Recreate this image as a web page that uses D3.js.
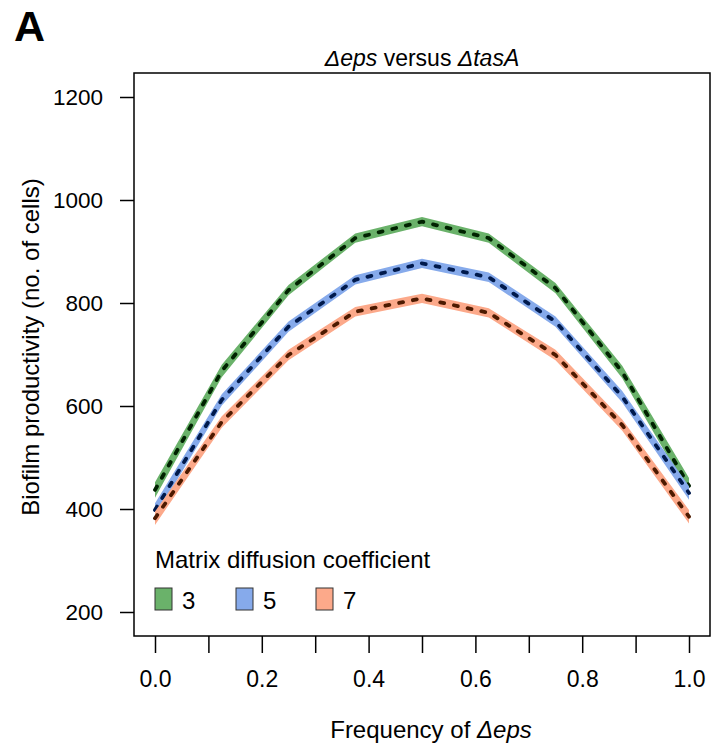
<!DOCTYPE html>
<html>
<head>
<meta charset="utf-8" />
<script src="https://d3js.org/d3.v7.min.js"></script>
<style>
  body { margin: 0; background: #fff; font-family: "Liberation Sans", Arial, sans-serif; }
  svg text { fill: #000; font-family: "Liberation Sans", Arial, sans-serif; }
</style>
</head>
<body>
<svg width="712" height="749"></svg>
<script>
// frequency of Δeps
const freq = [0, 0.125, 0.25, 0.375, 0.5, 0.625, 0.75, 0.875, 1.0];
// mean biofilm productivity per matrix diffusion coefficient
const coef3 = [437, 668, 825, 926, 958, 926, 829, 666, 445];
const coef5 = [398, 612, 754, 845, 877, 850, 764, 618, 431];
const coef7 = [382, 569, 699, 783, 809, 781, 699, 563, 385];
// half-width of the shaded band
const spread3 = [15, 12, 10, 9, 9, 9, 10, 12, 15];
const spread5 = [13, 11, 10, 9, 9, 9, 10, 11, 13];
const spread7 = [13, 11, 10, 9, 9, 9, 10, 11, 13];

const legendLabels = ["3", "5", "7"];
const yTicks = [200, 400, 600, 800, 1000, 1200];
const xTicks = [0, 0.1, 0.2, 0.3, 0.4, 0.5, 0.6, 0.7, 0.8, 0.9, 1.0];
const xLabels = [0, 0.2, 0.4, 0.6, 0.8, 1.0];

const series = [
  { key: "3", mean: coef3, spread: spread3, fill: "#6ab26a", dash: "#002200" },
  { key: "5", mean: coef5, spread: spread5, fill: "#86aaeb", dash: "#001a4d" },
  { key: "7", mean: coef7, spread: spread7, fill: "#fca98a", dash: "#4d1a00" }
];

const svg = d3.select("svg");
const box = { left: 134, right: 710, top: 73, bottom: 636 };

const x = d3.scaleLinear().domain([0, 1]).range([155, 689]);
const y = d3.scaleLinear().domain([200, 1200]).range([612, 97]);

// panel letter
svg.append("text").attr("x", 14).attr("y", 41)
  .style("font-size", "43px").style("font-weight", "bold").text("A");

// title
const title = svg.append("text").attr("x", (box.left + box.right) / 2).attr("y", 66)
  .attr("text-anchor", "middle").style("font-size", "23px");
title.append("tspan").style("font-style", "italic").text("\u0394eps");
title.append("tspan").text(" versus ");
title.append("tspan").style("font-style", "italic").text("\u0394tasA");

// bands and dashed means
series.forEach(s => {
  const pts = freq.map((f, i) => ({ f, m: s.mean[i], e: s.spread[i] }));
  svg.append("path").datum(pts)
    .attr("fill", s.fill)
    .attr("d", d3.area().x(d => x(d.f)).y0(d => y(d.m - d.e)).y1(d => y(d.m + d.e)));
  svg.append("path").datum(pts)
    .attr("fill", "none")
    .attr("stroke", s.dash)
    .attr("stroke-width", 3.8)
    .attr("stroke-linecap", "round")
    .attr("stroke-dasharray", "4,10")
    .attr("d", d3.line().x(d => x(d.f)).y(d => y(d.m)));
});

// frame
svg.append("rect")
  .attr("x", box.left).attr("y", box.top)
  .attr("width", box.right - box.left).attr("height", box.bottom - box.top)
  .attr("fill", "none").attr("stroke", "#000").attr("stroke-width", 1.5);

// y axis
const yAxis = d3.axisLeft(y).tickValues(yTicks).tickSize(14).tickPadding(17)
  .tickFormat(d3.format("d"));
const gy = svg.append("g").attr("transform", `translate(${box.left},0)`).call(yAxis);
gy.select(".domain").remove();
gy.selectAll("line").attr("stroke-width", 1.5);
gy.selectAll("text").style("font-size", "22.5px");

// x axis
const xAxis = d3.axisBottom(x).tickValues(xTicks).tickSize(17).tickPadding(18)
  .tickFormat(d => xLabels.some(v => Math.abs(v - d) < 1e-9) ? d3.format(".1f")(d) : "");
const gx = svg.append("g").attr("transform", `translate(0,${box.bottom})`).call(xAxis);
gx.select(".domain").remove();
gx.selectAll("line").attr("stroke-width", 1.5);
gx.selectAll("text").style("font-size", "23px");

// axis titles
svg.append("text")
  .attr("transform", "translate(39,347) rotate(-90)")
  .attr("text-anchor", "middle").style("font-size", "24px")
  .text("Biofilm productivity (no. of cells)");

const xt = svg.append("text").attr("x", 431).attr("y", 738)
  .attr("text-anchor", "middle").style("font-size", "24px");
xt.append("tspan").text("Frequency of ");
xt.append("tspan").style("font-style", "italic").text("\u0394eps");

// legend
svg.append("text").attr("x", 155).attr("y", 568).style("font-size", "24px")
  .text("Matrix diffusion coefficient");
const lx = [155, 236, 316];
series.forEach((s, i) => {
  svg.append("rect").attr("x", lx[i]).attr("y", 588).attr("width", 17).attr("height", 22)
    .attr("fill", s.fill).attr("stroke", "#333").attr("stroke-width", 1);
  svg.append("text").attr("x", lx[i] + 27).attr("y", 609).style("font-size", "24px")
    .text(legendLabels[i]);
});
</script>
</body>
</html>
